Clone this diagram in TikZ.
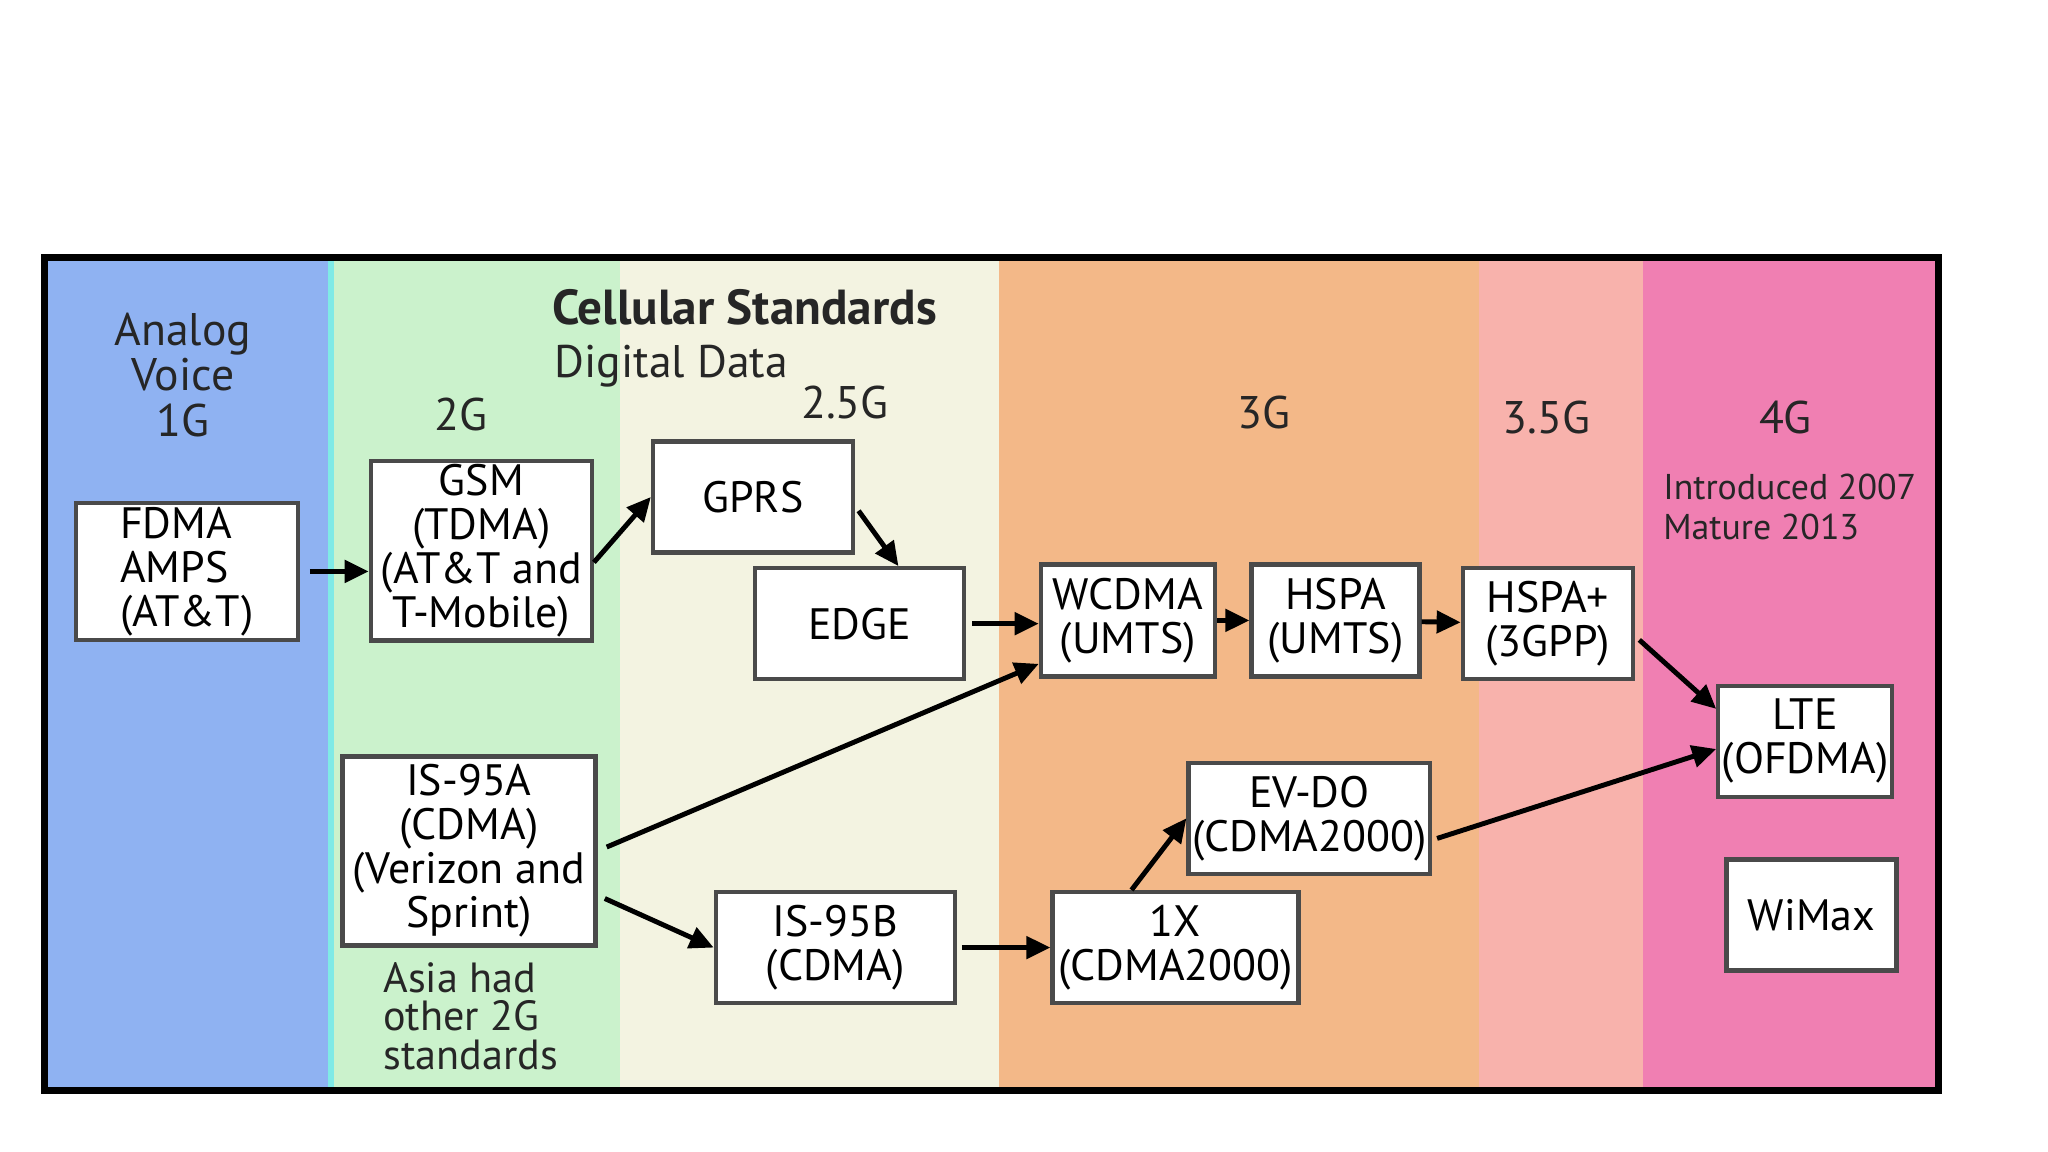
\documentclass[tikz,border=0pt]{standalone}
\usepackage{fontspec}
\setmainfont{PT Sans}
\usetikzlibrary{arrows.meta,positioning}
\definecolor{bandA}{HTML}{8FB2F2}
\definecolor{bandB}{HTML}{CBF2CC}
\definecolor{bandC}{HTML}{F3F3E1}
\definecolor{bandD}{HTML}{F3B888}
\definecolor{bandE}{HTML}{F8B2AC}
\definecolor{bandF}{HTML}{F07FB2}
\definecolor{seamcyan}{HTML}{7FEAE6}
\definecolor{boxline}{HTML}{4A4A4A}
\tikzset{
  stdbox/.style={draw=boxline,line width=1.2pt,fill=white,align=center,inner sep=1pt,
    minimum height=1.11cm,font=\fontsize{12.5}{12.5}\selectfont},
  genlabel/.style={font=\fontsize{13}{13}\selectfont,text=black!85},
  note/.style={align=left,font=\fontsize{12}{11}\selectfont,text=black!85},
  arrowline/.style={->,line width=1.4pt}
}

\begin{document}
\begin{tikzpicture}[>={Triangle[length=2.4mm,width=2.2mm]},x=0.01306cm,y=-0.01306cm]
  \useasboundingbox (0,0) rectangle (1568,882);
  % Generation bands
  \foreach \xa/\xb/\col in {34/253/bandA, 253/475/bandB, 475/765/bandC,
                            765/1132/bandD, 1132/1258/bandE, 1258/1484/bandF} {
    \fill[\col] (\xa,197) rectangle (\xb,835);
  }
  \fill[seamcyan] (251,197) rectangle (256,835);
  \draw[line width=2pt] (34,197) rectangle (1484,835);

  % Headings
  \node[genlabel,align=center] (analog) at (140,287) {Analog\\Voice\\1G};
  \node[font=\bfseries\fontsize{14}{14}\selectfont,text=black!85] (title) at (570,235) {Cellular Standards};
  \node[genlabel] (digital) at (514,280) {Digital Data};
  \foreach \x/\y/\g/\nm in {353/317/2G/two, 647/308/2.5G/twohalf, 968/316/3G/three,
                            1184/320/3.5G/threehalf, 1367/320/4G/four} {
    \node[genlabel] (gen\nm) at (\x,\y) {\g};
  }
  \node[note,font=\fontsize{10.2}{11.5}\selectfont,anchor=west] (intro) at (1264,388) {Introduced 2007\\Mature 2013};
  \node[note,anchor=west] (asia) at (284,778) {Asia had\\other 2G\\standards};

  % Standards
  \node[stdbox,minimum width=2.22cm,minimum height=1.37cm,align=left] (fdma) at (143,437.5) {FDMA\\AMPS\\(AT\&T)};
  \node[stdbox,minimum width=2.21cm,minimum height=1.79cm] (gsm) at (368.5,421.5) {GSM\\(TDMA)\\(AT\&T and\\T-Mobile)};
  \node[stdbox,minimum width=2.0cm] (gprs) at (576.5,380.5) {GPRS};
  \node[stdbox,minimum width=2.09cm] (edge) at (658,477.5) {EDGE};
  \node[stdbox,minimum width=1.74cm,minimum height=1.12cm] (wcdma) at (863.5,475) {WCDMA\\(UMTS)};
  \node[stdbox,minimum width=1.68cm,minimum height=1.12cm] (hspa) at (1022.5,475) {HSPA\\(UMTS)};
  \node[stdbox,minimum width=1.70cm] (hspap) at (1185,477.5) {HSPA+\\(3GPP)};
  \node[stdbox,minimum width=1.70cm] (lte) at (1382,567.5) {LTE\\(OFDMA)};
  \node[stdbox,minimum width=1.70cm] (wimax) at (1387,700.5) {WiMax};
  \node[stdbox,minimum width=2.53cm,minimum height=1.89cm] (isa) at (359,651.5) {IS-95A\\(CDMA)\\(Verizon and\\Sprint)};
  \node[stdbox,minimum width=2.39cm] (isb) at (639.5,725.5) {IS-95B\\(CDMA)};
  \node[stdbox,minimum width=2.46cm] (onex) at (900,725.5) {1X\\(CDMA2000)};
  \node[stdbox,minimum width=2.39cm] (evdo) at (1002.5,626.5) {EV-DO\\(CDMA2000)};

  % Evolution arrows
  \draw[arrowline,shorten <=1mm] (fdma.east) -- (fdma.east -| gsm.west);
  \draw[arrowline] (gsm.-6) -- (gprs.west);
  \draw[arrowline,shorten <=0.6mm] (gprs.-5) -- ([xshift=0.39cm]edge.north);
  \draw[arrowline,shorten <=0.6mm] (edge.east) -- (edge.east -| wcdma.west);
  \draw[arrowline] (wcdma) -- (hspa);
  \draw[arrowline] (hspa) -- (hspap);
  \draw[arrowline,shorten <=0.6mm] (hspap.-8) -- (lte.160);
  \draw[arrowline,shorten <=1mm] (isa.east) -- (wcdma.206);
  \draw[arrowline,shorten <=0.8mm] (isa.-19) -- (isb.west);
  \draw[arrowline,shorten <=0.5mm] (isb) -- (onex);
  \draw[arrowline] ([xshift=-0.44cm]onex.north) -- (evdo.west);
  \draw[arrowline,shorten <=0.5mm] (evdo.-10) -- (lte.185);
\end{tikzpicture}
\end{document}
